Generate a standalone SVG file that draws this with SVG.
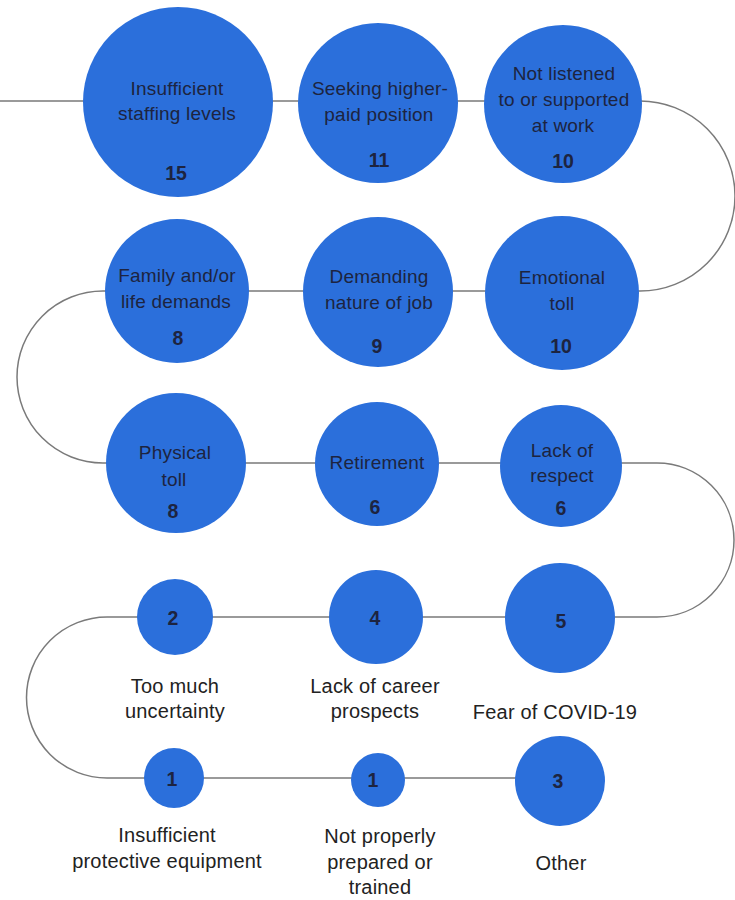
<svg xmlns="http://www.w3.org/2000/svg" width="735" height="900" viewBox="0 0 735 900">
<style>
.n{fill:#2b6fdb}
.t{font-family:"Liberation Sans",Arial,sans-serif;font-size:19px;fill:#1d2440;text-anchor:middle;letter-spacing:0.2px}
.v{font-family:"Liberation Sans",Arial,sans-serif;font-size:19.5px;font-weight:bold;fill:#1d2440;text-anchor:middle}
.l{font-family:"Liberation Sans",Arial,sans-serif;font-size:20px;fill:#222;text-anchor:middle;letter-spacing:0.2px}
.c{fill:none;stroke:#7a7a7a;stroke-width:1.5}
</style>
<rect width="735" height="900" fill="#fff"/>
<g id="connectors">
<path class="c" d="M0,101 H640 A95,95 0 0 1 640,291 H103 A86,86 0 0 0 103,463 H657 A77,77 0 0 1 657,617 H107 A80.5,80.5 0 0 0 107,778 H560"/>
</g>
<g id="n1"><circle class="n" cx="178" cy="102" r="95"/><text class="t" x="177" y="95">Insufficient</text><text class="t" x="177" y="120">staffing levels</text><text class="v" x="176" y="180">15</text></g>
<g id="n2"><circle class="n" cx="378" cy="103" r="80"/><text class="t" x="380" y="95">Seeking higher-</text><text class="t" x="379" y="121">paid position</text><text class="v" x="379" y="167">11</text></g>
<g id="n3"><circle class="n" cx="563" cy="104" r="79"/><text class="t" x="564" y="80">Not listened</text><text class="t" x="564" y="106">to or supported</text><text class="t" x="563" y="132">at work</text><text class="v" x="563" y="168">10</text></g>
<g id="n4"><circle class="n" cx="177" cy="291" r="72"/><text class="t" x="177" y="282">Family and/or</text><text class="t" x="176" y="308">life demands</text><text class="v" x="178" y="345">8</text></g>
<g id="n5"><circle class="n" cx="378" cy="292" r="75"/><text class="t" x="379" y="283">Demanding</text><text class="t" x="379" y="309">nature of job</text><text class="v" x="377" y="353">9</text></g>
<g id="n6"><circle class="n" cx="562" cy="293" r="77"/><text class="t" x="562" y="284">Emotional</text><text class="t" x="562" y="310">toll</text><text class="v" x="561" y="353">10</text></g>
<g id="n7"><circle class="n" cx="176" cy="463" r="70"/><text class="t" x="175" y="459">Physical</text><text class="t" x="174" y="486">toll</text><text class="v" x="173" y="518">8</text></g>
<g id="n8"><circle class="n" cx="377" cy="464" r="62"/><text class="t" x="377" y="469">Retirement</text><text class="v" x="375" y="514">6</text></g>
<g id="n9"><circle class="n" cx="561" cy="466" r="61"/><text class="t" x="562" y="457">Lack of</text><text class="t" x="562" y="482">respect</text><text class="v" x="561" y="515">6</text></g>
<g id="n10"><circle class="n" cx="175" cy="617" r="38"/><text class="v" x="173" y="625">2</text><text class="l" x="175" y="693">Too much</text><text class="l" x="175" y="718">uncertainty</text></g>
<g id="n11"><circle class="n" cx="376" cy="617" r="47"/><text class="v" x="375" y="625">4</text><text class="l" x="375" y="693">Lack of career</text><text class="l" x="375" y="718">prospects</text></g>
<g id="n12"><circle class="n" cx="560" cy="618" r="55"/><text class="v" x="561" y="628">5</text><text class="l" x="555" y="719">Fear of COVID-19</text></g>
<g id="n13"><circle class="n" cx="174" cy="778" r="30"/><text class="v" x="172" y="786">1</text><text class="l" x="167" y="842">Insufficient</text><text class="l" x="167" y="868">protective equipment</text></g>
<g id="n14"><circle class="n" cx="378" cy="780" r="27"/><text class="v" x="373" y="787">1</text><text class="l" x="380" y="843">Not properly</text><text class="l" x="380" y="869">prepared or</text><text class="l" x="380" y="894">trained</text></g>
<g id="n15"><circle class="n" cx="560" cy="781" r="45"/><text class="v" x="558" y="788">3</text><text class="l" x="561" y="870">Other</text></g>
</svg>
